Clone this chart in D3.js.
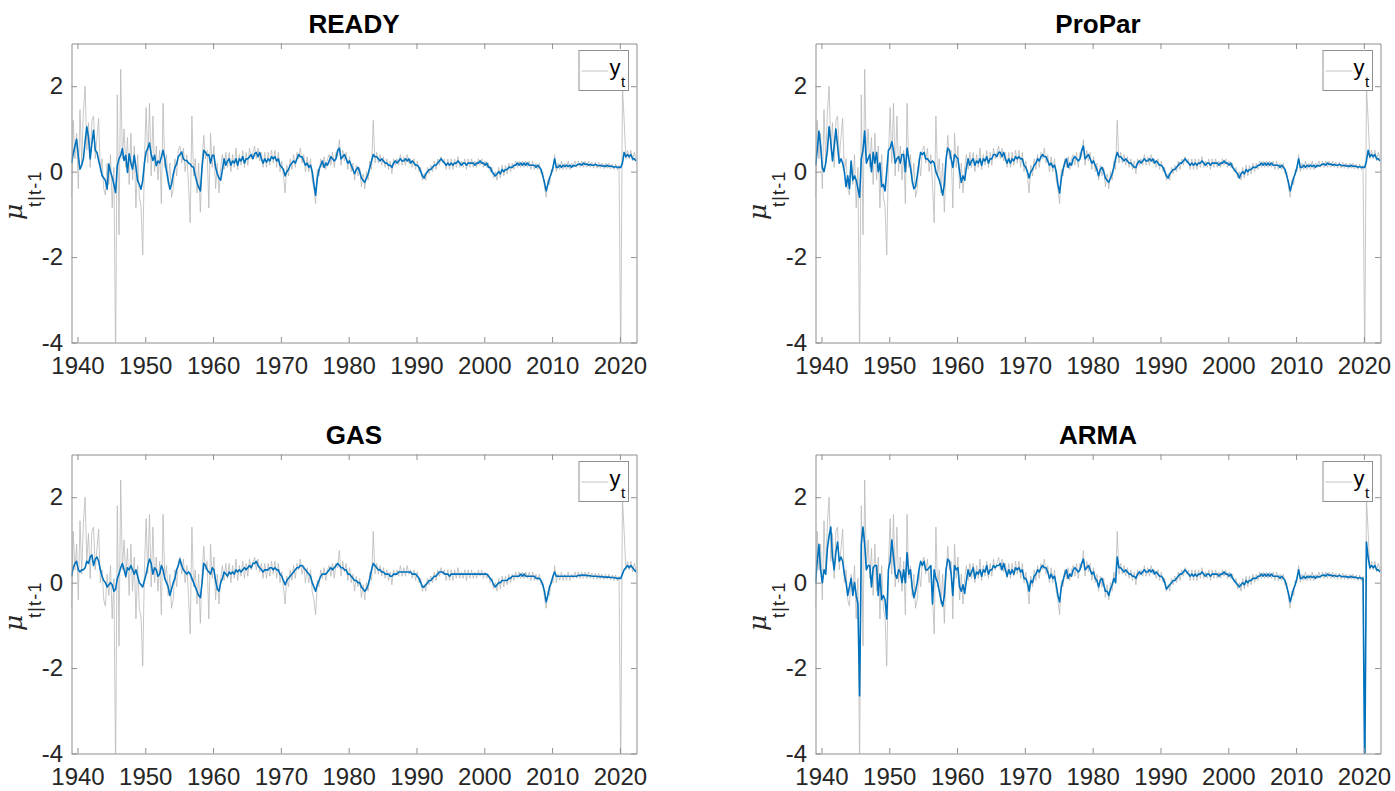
<!DOCTYPE html>
<html><head><meta charset="utf-8">
<script src="https://cdn.jsdelivr.net/npm/d3@7"></script>
<style>body{margin:0;background:#fff}svg{display:block}</style>
</head><body><svg id="chart" width="1395" height="791"></svg>
<script>
// ---------- data (quarterly points, 1939Q1 .. 2022Q2) ----------
const titles = ["READY", "ProPar", "GAS", "ARMA"];
const xTicks = [1940, 1950, 1960, 1970, 1980, 1990, 2000, 2010, 2020];
const yTicks = [-4, -2, 0, 2];
const startYear = 1939.125, stepYear = 0.25;

// observed series y_t (grey)
const yObs = [
-0.6,1.2,0.3,0.9,  -0.4,1.45,0.2,1.4,  2.0,0.5,1.15,0.1,  1.2,1.3,0.3,0.8,  1.25,0.0,0.3,-0.4,
-0.55,0.2,-0.3,0.4,  -0.85,0.1,-4.4,1.8,  -1.48,2.4,0.3,1.0,  0.1,0.8,-0.3,0.9,  -0.2,0.6,-0.85,0.4,
-0.6,-0.8,-1.95,0.3,  1.5,0.2,1.6,-0.1,  1.3,0.0,0.6,-0.2,  0.5,-0.75,1.6,0.1,  0.4,-0.3,0.2,-0.6,
-0.4,0.3,-0.1,0.5,  0.6,0.2,0.55,0.0,  0.4,-0.3,-1.2,1.3,  -0.1,0.3,-0.5,0.2,  -0.95,0.2,0.85,0.3,
0.5,-0.85,0.9,0.1,  0.6,-0.4,0.2,-0.5,  0.1,0.4,0.05,0.45,  0.1,0.45,0.0,0.4,  0.1,0.55,0.05,0.4,
0.15,0.5,0.1,0.45,  0.15,0.55,0.3,0.45,  0.6,0.3,0.55,0.25,  0.45,0.1,0.45,0.1,  0.45,0.15,0.5,0.2,
0.5,0.1,0.45,0.0,  0.25,-0.1,-0.5,0.15,  -0.1,0.3,0.05,0.4,  0.1,0.45,0.3,0.55,  0.2,0.4,0.0,0.35,
0.0,0.3,-0.2,-0.4,  -0.75,0.05,-0.1,0.3,  0.1,0.35,0.05,0.3,  0.4,0.15,0.45,0.1,  0.45,0.35,0.75,0.15,
0.5,0.25,0.45,0.05,  0.35,0.0,0.2,-0.2,  0.15,-0.1,0.1,-0.35,  -0.05,-0.4,0.0,-0.2,  0.25,0.05,1.2,0.2,
0.45,0.2,0.4,0.15,  0.35,0.1,0.3,0.05,  0.25,-0.05,0.3,0.15,  0.3,0.15,0.4,0.15,  0.35,0.15,0.4,0.2,
0.3,0.1,0.3,0.05,  0.25,0.0,0.1,-0.2,  -0.05,-0.2,0.1,-0.05,  0.15,0.0,0.25,0.05,  0.3,0.15,0.35,0.2,
0.3,0.05,0.3,0.05,  0.3,0.05,0.3,0.1,  0.35,0.1,0.25,0.1,  0.3,0.05,0.3,0.1,  0.3,0.1,0.25,0.1,
0.3,0.15,0.3,0.1,  0.25,0.1,0.2,0.0,  0.1,-0.15,0.0,-0.2,  0.1,-0.15,0.15,-0.1,  0.15,-0.05,0.2,0.0,
0.2,0.05,0.25,0.1,  0.25,0.1,0.25,0.1,  0.25,0.1,0.25,0.05,  0.25,0.05,0.2,0.05,  0.2,-0.05,0.0,-0.35,
-0.6,-0.2,-0.3,0.05,  0.0,0.4,0.0,0.2,  0.05,0.25,0.05,0.2,  0.05,0.25,0.05,0.2,  0.1,0.25,0.1,0.25,
0.1,0.25,0.1,0.25,  0.1,0.25,0.1,0.22,  0.08,0.22,0.08,0.22,  0.08,0.2,0.07,0.2,  0.08,0.2,0.06,0.18,
0.05,0.18,0.04,0.15,  -4.5,2.0,1.2,0.3,  0.5,0.3,0.5,0.25,  0.45,0.3
];

// filtered means mu_{t|t-1}
const muREADY = [
0.2,0.42,0.6,0.76,  0.35,0.06,0.15,0.3,  0.7,1.05,0.81,0.3,  0.66,0.97,0.5,0.45,  0.26,0.1,-0.09,-0.15,
-0.21,-0.41,0.18,0.0,  -0.13,-0.3,-0.49,0.14,  0.3,0.38,0.54,0.26,  0.38,-0.02,0.42,0.2,  0.06,0.38,0.1,-0.21,
-0.3,-0.41,-0.21,0.2,  0.46,0.55,0.67,0.4,  0.26,0.38,0.14,0.25,  0.2,0.34,0.5,0.3,  0.02,-0.2,-0.41,-0.3,
-0.06,0.1,0.18,0.35,  0.4,0.46,0.3,0.26,  0.26,0.2,0.18,0.12,  0.1,-0.1,-0.25,-0.37,  -0.45,0.1,0.5,0.45,
0.38,0.4,0.2,0.38,  0.38,0.1,-0.05,-0.15,  -0.2,0.05,0.3,0.15,  0.25,0.3,0.15,0.25,  0.2,0.3,0.15,0.3,
0.25,0.35,0.2,0.3,  0.3,0.35,0.4,0.3,  0.42,0.45,0.35,0.45,  0.3,0.2,0.3,0.22,  0.3,0.25,0.35,0.3,
0.35,0.25,0.3,0.15,  0.1,0.05,-0.1,0.0,  0.05,0.15,0.2,0.25,  0.2,0.3,0.4,0.35,  0.35,0.25,0.15,0.2,
0.1,0.15,0.0,-0.3,  -0.55,-0.15,0.05,0.15,  0.25,0.1,0.2,0.15,  0.25,0.35,0.3,0.25,  0.3,0.5,0.55,0.3,
0.35,0.4,0.3,0.2,  0.25,0.15,0.05,-0.05,  0.05,0.1,0.0,-0.15,  -0.2,-0.25,-0.15,-0.05,  0.1,0.25,0.4,0.35,
0.35,0.3,0.25,0.3,  0.25,0.2,0.2,0.15,  0.15,0.1,0.2,0.25,  0.2,0.25,0.3,0.25,  0.25,0.3,0.25,0.3,
0.2,0.25,0.2,0.15,  0.15,0.1,0.0,-0.1,  -0.15,-0.05,0.0,0.05,  0.05,0.1,0.15,0.15,  0.2,0.25,0.3,0.25,
0.2,0.15,0.2,0.15,  0.2,0.15,0.2,0.2,  0.25,0.2,0.15,0.2,  0.2,0.15,0.2,0.2,  0.2,0.2,0.15,0.2,
0.2,0.25,0.2,0.2,  0.15,0.2,0.1,0.1,  0.0,-0.05,-0.1,-0.05,  0.0,-0.05,0.05,0.0,  0.05,0.05,0.1,0.1,
0.1,0.15,0.15,0.2,  0.15,0.2,0.15,0.2,  0.15,0.2,0.15,0.15,  0.15,0.15,0.1,0.15,  0.1,0.05,-0.1,-0.25,
-0.45,-0.3,-0.15,-0.05,  0.1,0.3,0.1,0.1,  0.15,0.1,0.15,0.12,  0.15,0.12,0.15,0.1,  0.15,0.13,0.15,0.17,
0.18,0.15,0.2,0.17,  0.18,0.15,0.17,0.15,  0.15,0.17,0.15,0.14,  0.15,0.13,0.14,0.12,  0.15,0.12,0.13,0.12,
0.1,0.12,0.1,0.1,  0.1,0.2,0.45,0.35,  0.4,0.35,0.4,0.3,  0.3,0.25
];

const muProPar = [
0.15,0.5,0.95,0.6,  0.1,0.0,0.2,0.5,  1.05,0.7,0.25,0.6,  1.0,0.6,0.2,0.3,  0.2,0.0,-0.35,-0.1,
-0.4,0.25,-0.2,-0.1,  -0.2,-0.4,-0.6,0.3,  0.5,0.95,0.2,0.3,  0.4,0.0,0.45,0.2,  0.45,0.0,0.2,-0.35,
-0.3,-0.45,0.0,0.5,  0.55,0.7,0.5,0.2,  0.3,0.35,0.2,0.4,  0.4,0.0,0.55,0.3,  0.1,-0.2,-0.4,-0.35,
-0.1,0.2,0.45,0.4,  0.45,0.3,0.3,0.25,  0.2,0.25,0.2,0.0,  -0.1,-0.2,-0.35,-0.55,  -0.3,0.3,0.55,0.5,
0.3,0.1,0.4,0.35,  0.3,0.0,-0.25,-0.1,  -0.2,0.1,0.3,0.15,  0.25,0.3,0.15,0.25,  0.2,0.3,0.15,0.3,
0.25,0.35,0.2,0.3,  0.3,0.4,0.4,0.35,  0.45,0.45,0.35,0.45,  0.3,0.2,0.3,0.2,  0.3,0.25,0.35,0.3,
0.35,0.3,0.3,0.15,  0.1,0.0,-0.15,0.0,  0.05,0.15,0.2,0.3,  0.25,0.35,0.4,0.35,  0.35,0.25,0.15,0.2,
0.1,0.15,0.0,-0.3,  -0.5,-0.15,0.05,0.2,  0.3,0.1,0.2,0.15,  0.3,0.35,0.3,0.25,  0.3,0.5,0.6,0.3,
0.35,0.4,0.3,0.2,  0.25,0.15,0.05,-0.1,  0.05,0.1,0.0,-0.15,  -0.2,-0.25,-0.15,-0.05,  0.1,0.3,0.45,0.35,
0.35,0.3,0.25,0.3,  0.25,0.2,0.2,0.15,  0.1,0.1,0.2,0.25,  0.2,0.25,0.3,0.25,  0.25,0.3,0.25,0.3,
0.2,0.25,0.2,0.15,  0.15,0.1,0.0,-0.1,  -0.15,-0.05,0.0,0.05,  0.05,0.1,0.15,0.2,  0.2,0.25,0.3,0.25,
0.2,0.15,0.2,0.15,  0.2,0.15,0.2,0.2,  0.25,0.2,0.15,0.2,  0.2,0.15,0.2,0.2,  0.2,0.2,0.15,0.2,
0.2,0.25,0.2,0.2,  0.15,0.2,0.1,0.05,  0.0,-0.05,-0.15,-0.05,  0.0,-0.05,0.05,0.0,  0.05,0.05,0.1,0.1,
0.1,0.15,0.15,0.2,  0.15,0.2,0.15,0.2,  0.15,0.2,0.15,0.15,  0.15,0.15,0.1,0.15,  0.1,0.05,-0.1,-0.25,
-0.45,-0.3,-0.15,-0.05,  0.1,0.3,0.1,0.1,  0.15,0.1,0.15,0.12,  0.15,0.12,0.15,0.1,  0.15,0.13,0.15,0.17,
0.18,0.15,0.2,0.17,  0.18,0.15,0.17,0.15,  0.15,0.17,0.15,0.14,  0.15,0.13,0.14,0.12,  0.15,0.12,0.13,0.12,
0.1,0.12,0.1,0.1,  0.1,0.25,0.5,0.35,  0.4,0.35,0.4,0.3,  0.3,0.25
];

const muGAS = [
0.15,0.35,0.45,0.5,  0.3,0.25,0.3,0.3,  0.35,0.5,0.45,0.6,  0.65,0.4,0.55,0.6,  0.5,0.3,0.15,0.05,
0.0,-0.1,-0.05,0.0,  -0.05,-0.2,-0.15,0.1,  0.2,0.35,0.45,0.3,  0.15,0.35,0.3,0.4,  0.3,0.2,0.3,0.15,
0.0,-0.05,-0.1,0.05,  0.2,0.4,0.55,0.45,  0.2,0.35,0.3,0.15,  0.2,0.4,0.3,0.1,  0.0,-0.1,-0.3,-0.15,
0.0,0.1,0.3,0.4,  0.55,0.4,0.3,0.25,  0.2,0.25,0.2,0.1,  0.0,-0.1,-0.2,-0.3,  -0.35,0.0,0.45,0.4,
0.3,0.25,0.2,0.35,  0.3,0.05,-0.15,-0.2,  0.0,0.1,0.25,0.2,  0.15,0.25,0.2,0.25,  0.2,0.3,0.25,0.3,
0.25,0.3,0.35,0.3,  0.35,0.4,0.35,0.45,  0.45,0.5,0.4,0.35,  0.3,0.25,0.3,0.3,  0.3,0.35,0.35,0.3,
0.35,0.3,0.3,0.2,  0.15,0.05,-0.05,0.05,  0.1,0.15,0.2,0.25,  0.3,0.35,0.35,0.4,  0.4,0.35,0.3,0.25,
0.2,0.15,0.0,-0.1,  -0.2,-0.05,0.05,0.15,  0.2,0.2,0.2,0.25,  0.3,0.35,0.3,0.35,  0.4,0.45,0.4,0.35,
0.35,0.3,0.3,0.2,  0.2,0.15,0.1,0.05,  0.05,0.0,0.0,-0.1,  -0.15,-0.2,-0.15,-0.05,  0.1,0.3,0.45,0.4,
0.35,0.3,0.3,0.25,  0.25,0.2,0.2,0.2,  0.15,0.15,0.2,0.2,  0.2,0.25,0.25,0.25,  0.25,0.25,0.25,0.25,
0.25,0.2,0.2,0.2,  0.15,0.1,0.0,-0.1,  -0.1,-0.05,0.0,0.05,  0.05,0.1,0.15,0.15,  0.2,0.25,0.25,0.25,
0.2,0.2,0.2,0.15,  0.2,0.2,0.2,0.2,  0.2,0.2,0.2,0.2,  0.2,0.2,0.2,0.2,  0.2,0.2,0.2,0.2,
0.2,0.2,0.2,0.2,  0.2,0.2,0.15,0.1,  0.05,-0.05,-0.1,-0.05,  0.0,0.0,0.05,0.05,  0.05,0.05,0.1,0.1,
0.15,0.15,0.15,0.15,  0.15,0.2,0.15,0.2,  0.15,0.15,0.15,0.15,  0.15,0.15,0.1,0.1,  0.1,0.05,-0.05,-0.2,
-0.45,-0.3,-0.1,0.0,  0.15,0.25,0.15,0.15,  0.15,0.15,0.15,0.15,  0.15,0.15,0.15,0.15,  0.15,0.15,0.15,0.17,
0.17,0.17,0.18,0.17,  0.17,0.16,0.16,0.15,  0.15,0.15,0.15,0.14,  0.14,0.14,0.13,0.13,  0.13,0.13,0.12,0.12,
0.12,0.11,0.1,0.1,  0.1,0.2,0.3,0.35,  0.4,0.35,0.4,0.35,  0.3,0.25
];

const muARMA = [
0.0,0.5,0.9,0.3,  0.0,0.3,0.2,0.8,  1.1,1.3,0.6,0.3,  0.7,0.95,0.5,0.6,  0.5,0.2,0.0,-0.3,
-0.1,0.1,-0.3,0.0,  -0.3,-0.5,-2.65,0.9,  1.3,0.9,0.3,0.4,  0.4,-0.1,0.35,0.4,  0.4,-0.3,0.2,-0.4,
-0.3,-0.4,-0.85,0.3,  0.5,1.0,0.6,0.2,  0.1,0.3,0.25,0.0,  0.3,0.0,0.7,0.2,  0.3,-0.1,-0.35,-0.2,
0.0,0.3,0.5,0.4,  0.5,0.3,0.3,0.35,  0.4,-0.5,0.3,0.1,  0.0,-0.2,-0.4,-0.55,  -0.3,0.3,0.55,0.5,
0.2,-0.3,0.4,0.3,  0.35,-0.1,-0.2,-0.05,  -0.25,0.05,0.3,0.15,  0.25,0.35,0.1,0.25,  0.2,0.3,0.15,0.3,
0.25,0.4,0.2,0.3,  0.3,0.4,0.35,0.4,  0.4,0.45,0.3,0.45,  0.3,0.15,0.3,0.2,  0.3,0.2,0.35,0.3,
0.35,0.25,0.3,0.1,  0.1,0.0,-0.2,0.05,  0.0,0.15,0.2,0.3,  0.25,0.35,0.4,0.35,  0.35,0.25,0.1,0.2,
0.1,0.15,-0.05,-0.3,  -0.45,-0.1,0.05,0.2,  0.3,0.1,0.2,0.15,  0.3,0.35,0.3,0.25,  0.3,0.45,0.55,0.3,
0.35,0.4,0.3,0.2,  0.25,0.1,0.05,-0.1,  0.05,0.1,-0.05,-0.2,  -0.2,-0.3,-0.15,-0.05,  0.1,0.0,0.6,0.35,
0.35,0.3,0.25,0.3,  0.25,0.2,0.2,0.15,  0.15,0.1,0.2,0.25,  0.2,0.25,0.3,0.25,  0.25,0.3,0.25,0.3,
0.2,0.25,0.2,0.15,  0.15,0.1,0.0,-0.15,  -0.1,-0.05,0.0,0.05,  0.05,0.1,0.15,0.2,  0.2,0.25,0.3,0.25,
0.2,0.15,0.2,0.15,  0.2,0.15,0.2,0.2,  0.25,0.2,0.15,0.2,  0.2,0.15,0.2,0.2,  0.2,0.2,0.15,0.2,
0.2,0.25,0.2,0.2,  0.15,0.2,0.1,0.05,  0.0,-0.05,-0.1,-0.05,  0.0,-0.05,0.05,0.0,  0.05,0.05,0.1,0.1,
0.1,0.15,0.15,0.2,  0.15,0.2,0.15,0.2,  0.15,0.2,0.15,0.15,  0.15,0.15,0.1,0.15,  0.1,0.05,-0.1,-0.25,
-0.45,-0.3,-0.15,-0.05,  0.1,0.3,0.1,0.1,  0.15,0.1,0.15,0.12,  0.15,0.12,0.15,0.1,  0.15,0.13,0.15,0.17,
0.18,0.15,0.2,0.17,  0.18,0.15,0.17,0.15,  0.15,0.17,0.15,0.14,  0.15,0.13,0.14,0.12,  0.15,0.12,0.13,0.12,
0.1,0.12,0.1,0.1,  -4.6,0.95,0.6,0.35,  0.4,0.35,0.4,0.3,  0.3,0.25
];

const series = [muREADY, muProPar, muGAS, muARMA];
const dates = yObs.map((_, i) => startYear + stepYear * i);

// ---------- drawing ----------
const svg = d3.select("#chart");
const W = 565, H = 299;
const lefts = [71.5, 815.5], tops = [43.5, 454.5];
const FONT = "'Liberation Sans', Arial, Helvetica, sans-serif";
const axisCol = "#8f8f8f", textCol = "#262626";

titles.forEach((title, k) => {
  const row = Math.floor(k / 2);
  const x0 = lefts[k % 2], y0 = tops[row];
  const g = svg.append("g").attr("transform", `translate(${x0},${y0})`);
  const x = d3.scaleLinear().domain([1939.12, 2022.45]).range([0, W]);
  const y = d3.scaleLinear().domain([-4, 3]).range([H, 0]);

  const cid = "clip" + k;
  g.append("clipPath").attr("id", cid).append("rect").attr("width", W).attr("height", H);
  const line = d3.line().x((d, i) => x(dates[i])).y(d => y(d));
  const plot = g.append("g").attr("clip-path", `url(#${cid})`);
  plot.append("path").datum(yObs).attr("d", line)
    .attr("fill", "none").attr("stroke", "#b9b9b9").attr("stroke-width", 0.8);
  plot.append("path").datum(series[k]).attr("d", line)
    .attr("fill", "none").attr("stroke", "#0072BD").attr("stroke-width", 1.6)
    .attr("stroke-linejoin", "round");

  const styleAxis = sel => {
    sel.selectAll("path.domain").attr("stroke", axisCol);
    sel.selectAll(".tick line").attr("stroke", axisCol);
    sel.selectAll("text").attr("fill", textCol).style("font-family", FONT).style("font-size", "24px");
  };
  g.append("g").attr("transform", `translate(0,${H})`)
    .call(d3.axisBottom(x).tickValues(xTicks).tickFormat(d3.format("d")).tickSize(-5.5).tickSizeOuter(0).tickPadding(14.5))
    .call(styleAxis);
  g.append("g")
    .call(d3.axisTop(x).tickValues(xTicks).tickFormat("").tickSize(-5.5).tickSizeOuter(0))
    .call(styleAxis);
  g.append("g")
    .call(d3.axisLeft(y).tickValues(yTicks).tickFormat(d => d < 0 ? "-" + Math.abs(d) : String(d)).tickSize(-5.5).tickSizeOuter(0).tickPadding(8.5))
    .call(styleAxis);
  g.append("g").attr("transform", `translate(${W},0)`)
    .call(d3.axisRight(y).tickValues(yTicks).tickFormat("").tickSize(-5.5).tickSizeOuter(0))
    .call(styleAxis);

  // title
  g.append("text").attr("x", W / 2).attr("y", -10.5).attr("text-anchor", "middle")
    .style("font-family", FONT).style("font-size", "26px").style("font-weight", "bold")
    .attr("fill", "#000").text(title);

  // y label  mu_{t|t-1}
  const cy = H / 2;
  g.append("text").attr("transform", `translate(${-50},${cy + 27}) rotate(-90)`)
    .style("font-family", "'DejaVu Serif', serif").style("font-style", "italic").style("font-size", "25px")
    .attr("fill", textCol).text("μ");
  g.append("text").attr("transform", `translate(${-31},${cy + 14}) rotate(-90)`)
    .style("font-family", FONT).style("font-size", "18px").style("letter-spacing", "1.2px")
    .attr("fill", textCol).text("t|t-1");

  // legend
  const lw = 49.5, lh = 40;
  const lg = g.append("g").attr("transform", `translate(${W - 8 - lw},${7})`);
  lg.append("rect").attr("width", lw).attr("height", lh).attr("fill", "#fff").attr("stroke", axisCol);
  lg.append("line").attr("x1", 2.5).attr("x2", 29).attr("y1", 20.5).attr("y2", 20.5)
    .attr("stroke", "#c4c4c4").attr("stroke-width", 1);
  lg.append("text").attr("x", 30.5).attr("y", 24)
    .style("font-family", FONT).style("font-size", "22px").attr("fill", "#000").text("y");
  lg.append("text").attr("x", 42).attr("y", 36.5)
    .style("font-family", FONT).style("font-size", "15px").attr("fill", "#000").text("t");
});
</script>
</body></html>
